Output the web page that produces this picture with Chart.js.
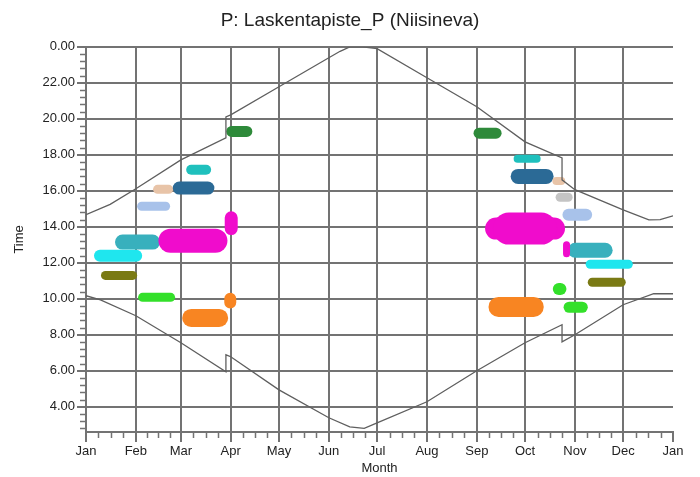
<!DOCTYPE html>
<html>
<head>
<meta charset="utf-8">
<script src="https://cdn.jsdelivr.net/npm/chart.js@4/dist/chart.umd.min.js"></script>
<style>
  html, body { margin: 0; padding: 0; background: #ffffff; }
  canvas { display: block; }
</style>
</head>
<body>
<canvas id="c" width="700" height="477"></canvas>
<script>
// ---- axis data ----
const monthLabels = ['Jan','Feb','Mar','Apr','May','Jun','Jul','Aug','Sep','Oct','Nov','Dec','Jan'];
const monthStartDays = [0,31,59,90,120,151,181,212,243,273,304,334,365];
const timeTicks = [4,6,8,10,12,14,16,18,20,22,24];

// ---- sunset / sunrise curves (day of year, hour) ----
const sunsetDays  = [0, 15, 31, 59, 87, 87, 90, 120, 151, 158, 164, 172, 181, 212, 243, 273, 296, 296, 304, 334, 350, 357, 365];
const sunsetTimes = [14.67, 15.25, 16.11, 17.72, 18.94, 20.11, 20.22, 21.78, 23.39, 23.75, 24.0, 24.0, 23.9, 22.28, 20.67, 18.72, 17.83, 16.61, 16.06, 14.94, 14.39, 14.4, 14.61];
const sunriseDays  = [0, 9, 31, 59, 87, 87, 90, 120, 151, 164, 173, 181, 212, 243, 273, 296, 296, 304, 334, 353, 365];
const sunriseTimes = [10.17, 9.94, 9.06, 7.56, 5.94, 6.89, 6.78, 4.94, 3.39, 2.89, 2.8, 3.11, 4.28, 6.0, 7.56, 8.56, 7.61, 8.0, 9.67, 10.28, 10.28];

// ---- shadow-flicker areas (centre line: start day/hour -> end day/hour) ----
const blobDayStart  = [22.7, 8.7, 12.1, 35.2, 34.6, 44.5, 58, 65.4, 90.6, 65.4, 52.5, 90.3, 89.7,
                       244.4, 268.4, 268.7, 292.5, 294.8, 300, 255, 263, 304.2, 298.8, 313.5, 314.8, 294, 300.4, 256.5];
const blobDayEnd    = [41.4, 31.2, 29, 52.6, 49.5, 51.4, 75.8, 74.7, 100, 82.8, 80.5, 90.3, 89.7,
                       255, 280.2, 286.1, 295.5, 299.8, 311, 291, 283, 322.8, 298.8, 337.2, 332.8, 295, 308.6, 278.4];
const blobTimeStart = [13.15, 12.39, 11.3, 10.08, 15.14, 16.08, 16.15, 17.17, 19.3, 8.94, 13.22, 14.5, 10.0,
                       19.2, 17.78, 16.8, 16.55, 15.64, 14.67, 13.9, 13.9, 12.7, 13.0, 11.92, 10.92, 10.55, 9.53, 9.55];
const blobTimeEnd   = [13.15, 12.39, 11.3, 10.08, 15.14, 16.08, 16.15, 17.17, 19.3, 8.94, 13.22, 13.9, 9.8,
                       19.2, 17.78, 16.8, 16.55, 15.64, 14.67, 13.9, 13.9, 12.7, 12.5, 11.92, 10.92, 10.55, 9.53, 9.55];

// ---- styles ----
const blobColors = ['#38b0bd','#1fe6ee','#7a7a14','#33e02a','#a8c2ea','#e8c4a8','#2b6a96','#1fc0bd','#2e8a3a','#f88522','#f00ccc','#f00ccc','#f88522',
                    '#2e8a3a','#1fc0bd','#2b6a96','#e8c4a8','#c4c4c4','#a8c2ea','#f00ccc','#f00ccc','#38b0bd','#f00ccc','#1fe6ee','#7a7a14','#33e02a','#33e02a','#f88522'];
const blobWidths = [15, 12, 9, 9, 9, 9, 13, 10, 11, 18, 24, 13, 12,
                    11, 8, 15, 8, 9, 12, 22, 32, 15, 7, 9, 9, 12, 11, 20];
const gridColor = '#737373';
const curveColor = '#5f5f5f';

Chart.defaults.font.family = "'Liberation Sans', Arial, sans-serif";
Chart.defaults.color = '#222222';

const curveDatasets = [
  { data: sunsetDays.map((d, i) => ({ x: d, y: sunsetTimes[i] })) },
  { data: sunriseDays.map((d, i) => ({ x: d, y: sunriseTimes[i] })) }
].map(ds => Object.assign(ds, {
  showLine: true, borderColor: curveColor, borderWidth: 1.3, pointRadius: 0, tension: 0, order: -1
}));

const blobDatasets = blobColors.map((c, i) => ({
  data: [{ x: blobDayStart[i], y: blobTimeStart[i] }, { x: blobDayEnd[i], y: blobTimeEnd[i] }],
  showLine: true,
  borderColor: c,
  backgroundColor: c,
  borderWidth: blobWidths[i],
  borderCapStyle: 'round',
  borderJoinStyle: 'round',
  pointRadius: 0,
  order: blobColors.length - i
}));

const minorTicks = {
  id: 'minorTicks',
  afterDraw(chart) {
    const { ctx, scales: { x, y }, chartArea } = chart;
    ctx.save();
    ctx.strokeStyle = gridColor;
    ctx.lineWidth = 1.5;
    ctx.beginPath();
    for (let m = 0; m < 12; m++) {
      const a = monthStartDays[m], b = monthStartDays[m + 1];
      for (let k = 1; k < 4; k++) {
        const px = Math.round(x.getPixelForValue(a + (b - a) * k / 4)) + 0.5;
        ctx.moveTo(px, chartArea.bottom);
        ctx.lineTo(px, chartArea.bottom + 6);
      }
    }
    for (let k = 1; 24 - 0.4 * k > y.min; k++) {
      if (k % 5 === 0) continue;
      const py = Math.round(y.getPixelForValue(24 - 0.4 * k)) + 0.5;
      ctx.moveTo(chartArea.left - 6, py);
      ctx.lineTo(chartArea.left, py);
    }
    ctx.stroke();
    ctx.restore();
  }
};

new Chart(document.getElementById('c'), {
  type: 'scatter',
  data: { datasets: [...curveDatasets, ...blobDatasets] },
  plugins: [minorTicks],
  options: {
    responsive: false,
    animation: false,
    events: [],
    layout: { padding: { left: 0, right: 0, top: 0, bottom: 0 } },
    plugins: {
      legend: { display: false },
      tooltip: { enabled: false },
      title: {
        display: true,
        text: 'P: Laskentapiste_P (Niisineva)',
        color: '#222222',
        font: { size: 19, weight: 'normal' },
        padding: { top: 9, bottom: 15 }
      }
    },
    scales: {
      x: {
        type: 'linear',
        min: 0, max: 365,
        z: 1,
        afterBuildTicks: s => { s.ticks = monthStartDays.map(v => ({ value: v })); },
        afterFit: s => { s.height = 45; },
        ticks: {
          autoSkip: false, maxRotation: 0, padding: 2,
          font: { size: 13 }, color: '#222222',
          callback: (v, i) => monthLabels[i]
        },
        grid: {
          color: ctx => (ctx.tick && ctx.tick.value === 365) ? 'rgba(0,0,0,0)' : gridColor,
          tickColor: gridColor,
          lineWidth: 2,
          tickLength: 10
        },
        border: { display: true, color: gridColor, width: 2 },
        title: { display: true, text: 'Month', font: { size: 13 }, color: '#222222', padding: { top: 0, bottom: 1 } }
      },
      y: {
        type: 'linear',
        min: 2.6, max: 24,
        z: 1,
        afterBuildTicks: s => { s.ticks = timeTicks.map(v => ({ value: v })); },
        afterFit: s => { s.width = 86; },
        ticks: {
          padding: 2, font: { size: 13 }, color: '#222222',
          callback: v => (v % 24).toFixed(2)
        },
        grid: { color: gridColor, tickColor: gridColor, lineWidth: 2, tickLength: 9 },
        border: { display: true, color: gridColor, width: 2 },
        title: { display: true, text: 'Time', font: { size: 13 }, color: '#222222', padding: { top: 12, bottom: 0 } }
      },
      yRight: {
        type: 'linear',
        position: 'right',
        min: 2.6, max: 24,
        afterFit: s => { s.width = 27; },
        ticks: { display: false },
        grid: { display: false, drawOnChartArea: false },
        border: { display: false },
        title: { display: false }
      }
    }
  }
});
</script>
</body>
</html>
